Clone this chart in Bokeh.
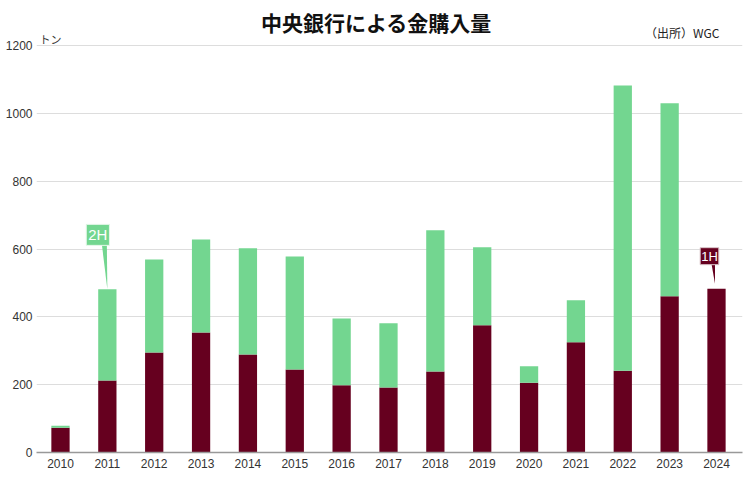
from bokeh.plotting import figure
from bokeh.models import Range1d, FixedTicker, Label
from bokeh.embed import file_html
from bokeh.resources import INLINE

years = [2010, 2011, 2012, 2013, 2014, 2015, 2016, 2017, 2018, 2019, 2020, 2021, 2022, 2023, 2024]
first_half = [73, 212, 295, 354, 289, 245, 198, 192, 239, 375, 206, 325, 241, 461, 483]
second_half = [6, 269, 274, 274, 313, 333, 197, 189, 416, 230, 48, 124, 841, 569, 0]
y_ticks = [0, 200, 400, 600, 800, 1000, 1200]

DARK = "#66001f"
GREEN = "#73d690"
FONT = "Liberation Sans"
JP = "Noto Sans CJK JP"

W, H = 744, 475
px_per_y = 407 / 1200.0
y_top = 1200 + 45 / px_per_y  # room above the chart for title texts
x_lo, x_hi = 2009.488, 2024.555

p = figure(width=W, height=H, output_backend="svg", toolbar_location=None,
           x_range=Range1d(x_lo, x_hi), y_range=Range1d(0, y_top),
           min_border_left=36, min_border_right=2, min_border_top=0, min_border_bottom=23)
p.outline_line_color = None
p.background_fill_color = "white"

data = dict(x=years, h1=first_half, h2=second_half)
p.vbar_stack(["h1", "h2"], x="x", width=0.39, color=[DARK, GREEN], source=data, line_color=None)

# axes
p.xaxis.ticker = FixedTicker(ticks=years)
p.xaxis.major_tick_line_color = None
p.xaxis.major_tick_in = 0
p.xaxis.major_tick_out = 0
p.xaxis.minor_tick_line_color = None
p.xaxis.axis_line_color = "#999999"
p.xaxis.axis_line_width = 1.5
p.xaxis.major_label_text_font = FONT
p.xaxis.major_label_text_font_size = "12px"
p.xaxis.major_label_text_color = "#333333"
p.xaxis.major_label_standoff = 6

p.yaxis.ticker = FixedTicker(ticks=y_ticks)
p.yaxis.major_tick_line_color = None
p.yaxis.major_tick_in = 0
p.yaxis.major_tick_out = 0
p.yaxis.minor_tick_line_color = None
p.yaxis.axis_line_color = None
p.yaxis.major_label_text_font = FONT
p.yaxis.major_label_text_font_size = "12px"
p.yaxis.major_label_text_color = "#333333"
p.yaxis.major_label_standoff = 4

p.xgrid.grid_line_color = None
p.ygrid.ticker = FixedTicker(ticks=y_ticks)
p.ygrid.grid_line_color = "#dddddd"
p.ygrid.grid_line_width = 1

px_per_x = 706 / (x_hi - x_lo)

# 2H callout (2011)
i = years.index(2011)
top = first_half[i] + second_half[i]
box_bottom = top + 44 / px_per_y
xs1 = [2011 - 5.5 / px_per_x, 2011 - 0.5 / px_per_x, 2011]
ys1 = [box_bottom + 1 / px_per_y, box_bottom + 1 / px_per_y, top]
# 1H callout (2024)
j = years.index(2024)
top2 = first_half[j] + second_half[j] + 5 / px_per_y
box_bottom2 = top2 + 19 / px_per_y
xs2 = [2024 - 5 / px_per_x, 2024 - 1.5 / px_per_x, 2024 - 1.5 / px_per_x]
ys2 = [box_bottom2 + 1 / px_per_y, box_bottom2 + 1 / px_per_y, top2]
p.patches([xs1, xs2], [ys1, ys2], fill_color=[GREEN, DARK], line_color=None)

p.add_layout(Label(x=2011 - 9.5 / px_per_x, y=box_bottom, text="2H", text_color="white",
                   text_font=FONT, text_font_size="15px", text_align="center",
                   text_baseline="bottom", background_fill_color=GREEN,
                   border_line_color="#e6f7ea", border_line_width=1, padding=2))
p.add_layout(Label(x=2024 - 7 / px_per_x, y=box_bottom2, text="1H", text_color="white",
                   text_font=FONT, text_font_size="13px", text_align="center",
                   text_baseline="bottom", background_fill_color=DARK,
                   border_line_color="#d9c4c9", border_line_width=1, padding=1))

# texts around the chart (screen units are relative to the plot frame)
p.add_layout(Label(x=340, y=431, x_units="screen", y_units="screen", text="中央銀行による金購入量",
                   text_font=JP, text_font_size="21px",
                   text_font_style="bold", text_align="center", text_baseline="middle",
                   text_color="#111111"))
p.add_layout(Label(x=683, y=420, x_units="screen", y_units="screen", text="（出所）WGC",
                   text_font=JP, text_font_size="12px", text_align="right", text_baseline="middle",
                   text_color="#222222"))
p.add_layout(Label(x=3, y=414, x_units="screen", y_units="screen", text="トン",
                   text_font=JP, text_font_size="11px", text_align="left", text_baseline="middle",
                   text_color="#333333"))

open("out.html", "w").write(file_html(p, INLINE))
